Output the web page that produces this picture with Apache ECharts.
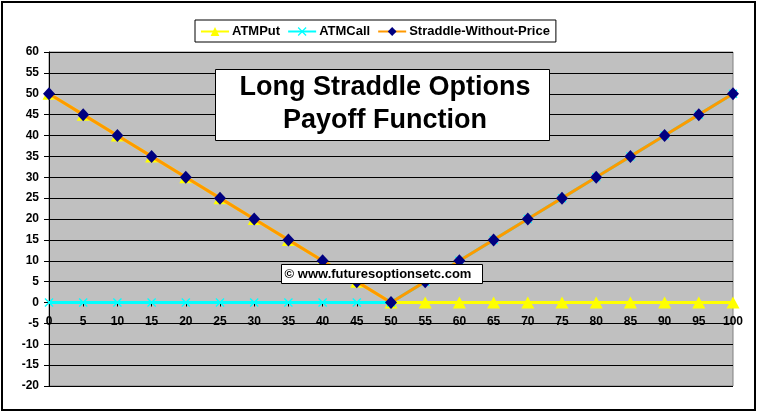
<!DOCTYPE html>
<html>
<head>
<meta charset="utf-8">
<script src="https://cdn.jsdelivr.net/npm/echarts@6/dist/echarts.min.js"></script>
<style>
html,body{margin:0;padding:0;background:#fff;}
#c{width:758px;height:414px;}
</style>
</head>
<body>
<div id="c"></div>
<script>
const categories = ['0','5','10','15','20','25','30','35','40','45','50','55','60','65','70','75','80','85','90','95','100'];
const atmPut   = [50,45,40,35,30,25,20,15,10,5,0,0,0,0,0,0,0,0,0,0,0];
const atmCall  = [0,0,0,0,0,0,0,0,0,0,0,5,10,15,20,25,30,35,40,45,50];
const straddle = [50,45,40,35,30,25,20,15,10,5,0,5,10,15,20,25,30,35,40,45,50];
const yMin = -20, yMax = 60, yStep = 5;
const titleLines = ['Long Straddle Options', 'Payoff Function'];
const watermark = '\u00A9 www.futuresoptionsetc.com';

const font = 'Arial, "Liberation Sans", sans-serif';
const xPath = 'path://M0,1L1,0L5,4L9,0L10,1L6,5L10,9L9,10L5,6L1,10L0,9L4,5Z';

const gridTop = 52, gridBottom = 28, chartH = 414;
const plotH = chartH - gridTop - gridBottom;
// distance (px) from plot bottom up to the value 0
const zeroOffset = plotH * (0 - yMin) / (yMax - yMin);

const chart = echarts.init(document.getElementById('c'), null, {renderer:'canvas'});
chart.setOption({
  backgroundColor: '#ffffff',
  animation: false,
  legend: {
    left: 195, top: 20,
    padding: [5, 6, 4, 5],
    itemGap: 7,
    itemWidth: 28,
    itemHeight: 11,
    borderColor: '#000', borderWidth: 1,
    backgroundColor: '#fff',
    textStyle: {fontFamily: font, fontWeight: 'bold', fontSize: 13, color: '#000', padding: [0,0,0,-2]},
    data: ['ATMPut', 'ATMCall', 'Straddle-Without-Price']
  },
  grid: {
    left: 49, right: 25, top: gridTop, bottom: gridBottom,
    show: true,
    backgroundColor: '#C0C0C0',
    borderColor: '#808080', borderWidth: 1
  },
  xAxis: {
    type: 'category',
    data: categories,
    boundaryGap: false,
    position: 'bottom',
    offset: -zeroOffset,
    axisLine: {onZero: false, lineStyle: {color: '#000', width: 1}},
    axisTick: {show: true, length: 4, lineStyle: {color: '#000'}},
    axisLabel: {fontFamily: font, fontWeight: 'bold', fontSize: 12, color: '#000', margin: 13, interval: 0},
    splitLine: {show: false}
  },
  yAxis: {
    type: 'value',
    min: yMin, max: yMax, interval: yStep,
    axisLine: {show: true, onZero: false, lineStyle: {color: '#000', width: 1}},
    axisTick: {show: true, length: 5, lineStyle: {color: '#000'}},
    axisLabel: {fontFamily: font, fontWeight: 'bold', fontSize: 12, color: '#000', margin: 10},
    splitLine: {show: true, lineStyle: {color: '#000', width: 1}}
  },
  series: [
    {
      name: 'ATMPut', type: 'line', data: atmPut,
      symbol: 'triangle', symbolSize: [13, 12],
      lineStyle: {color: '#FFFF00', width: 3},
      itemStyle: {color: '#FFFF00'},
      z: 2
    },
    {
      name: 'ATMCall', type: 'line', data: atmCall,
      symbol: xPath, symbolSize: 9,
      lineStyle: {color: '#00FFFF', width: 3},
      itemStyle: {color: '#00FFFF'},
      z: 3
    },
    {
      name: 'Straddle-Without-Price', type: 'line', data: straddle,
      symbol: 'diamond', symbolSize: [12, 13],
      lineStyle: {color: '#FF9900', width: 3},
      itemStyle: {color: '#000080'},
      z: 4
    }
  ],
  graphic: [
    {
      type: 'rect', z: 100,
      shape: {x: 2, y: 2, width: 753, height: 408},
      style: {fill: 'none', stroke: '#000', lineWidth: 2}
    },
    {
      type: 'rect', z: 100,
      shape: {x: 215.5, y: 69.5, width: 334, height: 71},
      style: {fill: '#fff', stroke: '#000', lineWidth: 1}
    },
    {
      type: 'text', z: 101,
      x: 385, y: 88,
      style: {text: titleLines[0], font: 'bold 27px ' + font, fill: '#000', align: 'center', verticalAlign: 'middle'}
    },
    {
      type: 'text', z: 101,
      x: 385, y: 121,
      style: {text: titleLines[1], font: 'bold 27px ' + font, fill: '#000', align: 'center', verticalAlign: 'middle'}
    },
    {
      type: 'rect', z: 100,
      shape: {x: 281.5, y: 264.5, width: 201, height: 19},
      style: {fill: '#fff', stroke: '#000', lineWidth: 1}
    },
    {
      type: 'text', z: 101,
      x: 378, y: 274,
      style: {text: watermark, font: 'bold 13px ' + font, fill: '#000', align: 'center', verticalAlign: 'middle'}
    }
  ]
});
</script>
</body>
</html>
